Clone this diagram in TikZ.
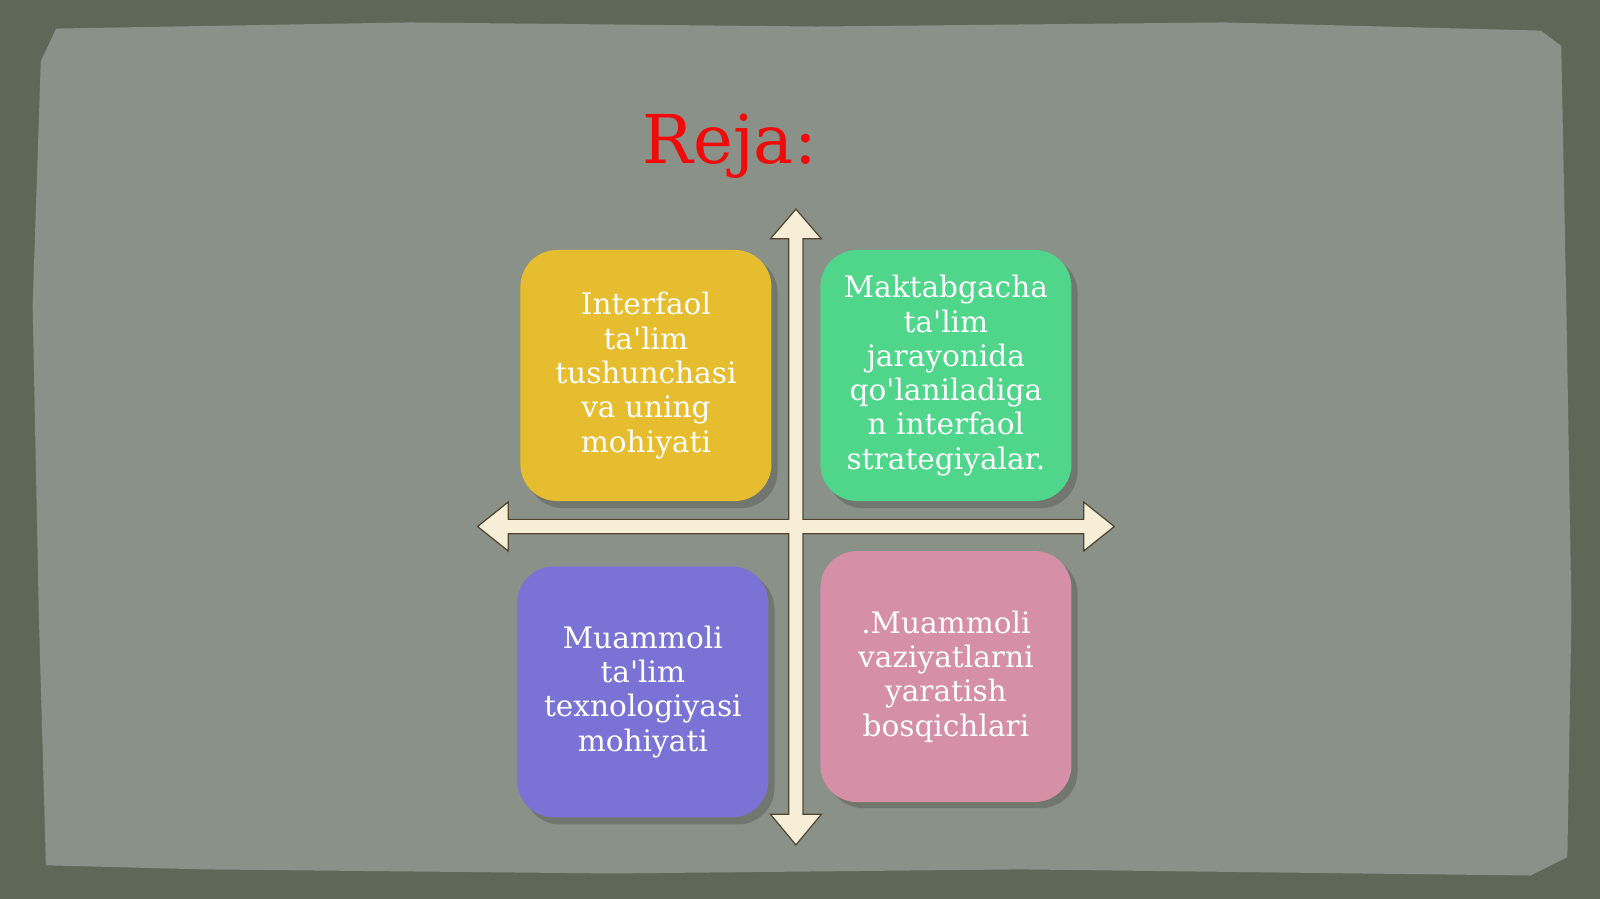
\documentclass[tikz,border=0pt]{standalone}
\usepackage{fontspec}
\setmainfont{DejaVu Serif}
\newcommand{\ap}{\textquotesingle}
\begin{document}
\begin{tikzpicture}[x=0.5pt,y=-0.5pt,
  card/.style={rounded corners=18pt,minimum width=123pt,minimum height=123pt,draw=none,
    text=white,align=center,font=\fontsize{14.5}{16.8}\selectfont},
  shad/.style={rounded corners=18pt,fill=black,opacity=0.18}]
\fill[fill={rgb,255:red,95;green,104;blue,88}] (0,0) rectangle (1568,881);
\useasboundingbox (0,0) rectangle (1568,881);
\fill[fill={rgb,255:red,138;green,145;blue,136}]
 (55,28) -- (400,22) -- (800,26) -- (1200,22) -- (1510,30) -- (1530,45) -- (1535,300) -- (1540,600)
 -- (1536,840) -- (1500,858) -- (1000,852) -- (600,856) -- (200,852) -- (45,848) -- (38,600) -- (32,300) -- (40,60) -- cycle;
\node[text={rgb,255:red,240;green,10;blue,10},font=\fontsize{33}{36}\selectfont] (title) at (715,143) {Reja:};
% shadows
\fill[shad] (516,251) rectangle (762,498);
\fill[shad] (810,251) rectangle (1056,498);
\fill[shad] (513,561) rectangle (759,808);
\fill[shad] (810,546) rectangle (1056,792);
\node[card,fill={rgb,255:red,230;green,189;blue,46}] (a) at (633,368) {Interfaol\\ta\ap lim\\tushunchasi\\va uning\\mohiyati};
\node[card,fill={rgb,255:red,80;green,214;blue,138}] (b) at (927,368) {Maktabgacha\\ta\ap lim\\jarayonida\\qo\ap laniladiga\\n interfaol\\strategiyalar.};
\node[card,fill={rgb,255:red,123;green,114;blue,214}] (c) at (630,678) {Muammoli\\ta\ap lim\\texnologiyasi\\mohiyati};
\node[card,fill={rgb,255:red,213;green,143;blue,166}] (d) at (927,663) {.Muammoli\\vaziyatlarni\\yaratish\\bosqichlari};
% cross arrow
\draw[fill={rgb,255:red,246;green,238;blue,214},draw={rgb,255:red,80;green,70;blue,50},line width=0.6pt,line join=miter]
 (780,205) -- (805,234) -- (787,234) -- (787,509) -- (1062,509) -- (1062,492) -- (1092,516) -- (1062,540) -- (1062,523)
 -- (787,523) -- (787,798) -- (805,798) -- (780,828) -- (755,798) -- (773,798) -- (773,523) -- (498,523) -- (498,540)
 -- (468,516) -- (498,492) -- (498,509) -- (773,509) -- (773,234) -- (755,234) -- cycle;
\coordinate (center) at (780,516);
\end{tikzpicture}
\end{document}
